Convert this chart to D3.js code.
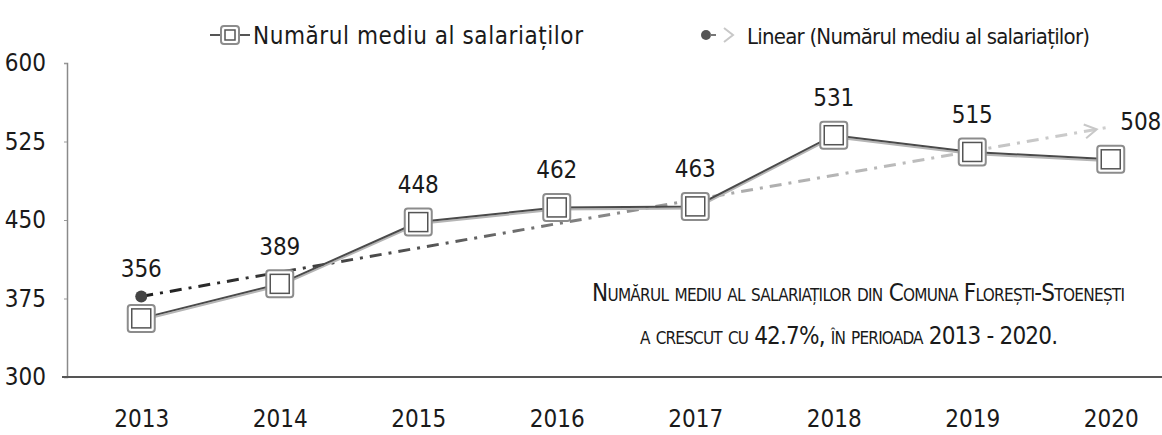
<!DOCTYPE html>
<html>
<head>
<meta charset="utf-8">
<script src="https://cdn.jsdelivr.net/npm/d3@7"></script>
<style>
  body { margin: 0; background: #fff; }
  text { font-family: "DejaVu Sans", sans-serif; font-stretch: condensed; fill: #1a1a1a; }
</style>
</head>
<body>
<svg></svg>
<script>
const years = ['2013', '2014', '2015', '2016', '2017', '2018', '2019', '2020'];
const salariati = [356, 389, 448, 462, 463, 531, 515, 508];
// trend line end points
const trendYears = ['2013', '2020'];
const trendValues = [377, 539];
const yTicks = [300, 375, 450, 525, 600];
const seriesName = 'Numărul mediu al salariaților';
const trendName = 'Linear (Numărul mediu al salariaților)';

const width = 1162;
const height = 435;

const svg = d3.select('svg')
    .attr('width', width)
    .attr('height', height);

const x = d3.scalePoint()
    .domain(years)
    .range([72, 1180])
    .padding(0.5);

const y = d3.scaleLinear()
    .domain([300, 600])
    .range([377, 63]);

// gradient for the fading trend line
const defs = svg.append('defs');
const grad = defs.append('linearGradient')
    .attr('id', 'trendGrad')
    .attr('gradientUnits', 'userSpaceOnUse')
    .attr('x1', x('2013')).attr('x2', x('2020'))
    .attr('y1', 0).attr('y2', 0);
grad.append('stop').attr('offset', 0).attr('stop-color', '#1e1e1e');
grad.append('stop').attr('offset', 0.3).attr('stop-color', '#555');
grad.append('stop').attr('offset', 0.6).attr('stop-color', '#aaa');
grad.append('stop').attr('offset', 1).attr('stop-color', '#cfcfcf');

// y axis
const yAxis = svg.append('g')
    .attr('transform', 'translate(67,0)')
    .call(d3.axisLeft(y).tickValues(yTicks).tickSize(3).tickPadding(18));
yAxis.select('.domain').attr('stroke', '#8a8a8a').attr('stroke-width', 1.5);
yAxis.selectAll('.tick line').attr('stroke', '#999');
yAxis.selectAll('.tick text').attr('font-size', 24).attr('fill', '#1a1a1a');

// x axis
const xAxis = svg.append('g')
    .attr('transform', `translate(0,${y(300)})`)
    .call(d3.axisBottom(x).tickSize(0).tickPadding(33));
xAxis.select('.domain').remove();
xAxis.append('line')
    .attr('x1', 62).attr('x2', width)
    .attr('stroke', '#555').attr('stroke-width', 1.8);
xAxis.selectAll('.tick text').attr('font-size', 24).attr('fill', '#1a1a1a');

// trend line
const trend = trendYears.map((d, i) => ({ year: d, value: trendValues[i] }));
const trendLine = d3.line().x(d => x(d.year)).y(d => y(d.value));
svg.append('path')
    .datum(trend)
    .attr('d', trendLine)
    .attr('fill', 'none')
    .attr('stroke', 'url(#trendGrad)')
    .attr('stroke-width', 3)
    .attr('stroke-dasharray', '12 7 3 7');
svg.append('circle')
    .attr('cx', x('2013'))
    .attr('cy', y(trendValues[0]))
    .attr('r', 6)
    .attr('fill', '#444');
const ang = Math.atan2(y(trendValues[1]) - y(trendValues[0]), x('2020') - x('2013'));
const ax = x('2020') - 14;
const ay = y(trendValues[1]) - 14 * Math.tan(ang);
svg.append('path')
    .attr('d', 'M-12,-7 L0,0 L-12,7')
    .attr('transform', `translate(${ax},${ay}) rotate(${ang * 180 / Math.PI})`)
    .attr('fill', 'none')
    .attr('stroke', '#c8c8c8')
    .attr('stroke-width', 2);

// main series
const data = years.map((d, i) => ({ year: d, value: salariati[i] }));
const line = d3.line().x(d => x(d.year)).y(d => y(d.value));
svg.append('path')
    .datum(data)
    .attr('d', line)
    .attr('transform', 'translate(0,2)')
    .attr('fill', 'none')
    .attr('stroke', '#b5b5b5')
    .attr('stroke-width', 2);
svg.append('path')
    .datum(data)
    .attr('d', line)
    .attr('fill', 'none')
    .attr('stroke', '#4a4a4a')
    .attr('stroke-width', 2);

function marker(g, size) {
    g.append('rect')
        .attr('x', -size / 2).attr('y', -size / 2)
        .attr('width', size).attr('height', size)
        .attr('rx', 3)
        .attr('fill', '#fff')
        .attr('stroke', '#8c8c8c')
        .attr('stroke-width', 2);
    g.append('rect')
        .attr('x', -size / 2 + 4).attr('y', -size / 2 + 4)
        .attr('width', size - 8).attr('height', size - 8)
        .attr('fill', '#fff')
        .attr('stroke', '#555')
        .attr('stroke-width', 1.5);
}

svg.selectAll('.mk')
    .data(data)
    .enter()
    .append('g')
    .attr('class', 'mk')
    .attr('transform', d => `translate(${x(d.year)},${y(d.value)})`)
    .each(function () { marker(d3.select(this), 27); });

// data labels
svg.selectAll('.lbl')
    .data(data)
    .enter()
    .append('text')
    .attr('class', 'lbl')
    .attr('x', d => d.year === '2020' ? x(d.year) + 30 : x(d.year))
    .attr('y', d => y(d.value) - (d.year === '2013' ? 41 : 29))
    .attr('text-anchor', 'middle')
    .attr('font-size', 24)
    .text(d => d.value);

// legend
const leg = svg.append('g').attr('transform', 'translate(0,35)');
leg.append('line').attr('x1', 210).attr('x2', 250).attr('stroke', '#555').attr('stroke-width', 2);
const lm = leg.append('g').attr('transform', 'translate(230,0)');
marker(lm, 18);
leg.append('text').attr('x', 253).attr('y', 9).attr('font-size', 24)
    .attr('textLength', 330).text(seriesName);
leg.append('circle').attr('cx', 706).attr('cy', 0).attr('r', 5).attr('fill', '#555');
leg.append('line').attr('x1', 710).attr('x2', 716).attr('stroke', '#777').attr('stroke-width', 2);
leg.append('path').attr('d', 'M724,-7 L733,0 L724,7').attr('fill', 'none').attr('stroke', '#c8c8c8').attr('stroke-width', 2);
leg.append('text').attr('x', 747).attr('y', 9).attr('font-size', 22)
    .attr('textLength', 343).text(trendName);

// annotation
const note = svg.append('g').attr('font-size', 24);
note.append('text')
    .attr('x', 592).attr('y', 301)
    .attr('textLength', 533)
    .style('font-variant', 'small-caps')
    .text('Numărul mediu al salariaților din Comuna Florești-Stoenești');
const l2 = note.append('text').attr('x', 640).attr('y', 344).attr('textLength', 418);
l2.append('tspan').style('font-variant', 'small-caps').text('a crescut cu ');
l2.append('tspan').text('42.7%');
l2.append('tspan').style('font-variant', 'small-caps').text(', în perioada ');
l2.append('tspan').text('2013 - 2020.');
</script>
</body>
</html>
